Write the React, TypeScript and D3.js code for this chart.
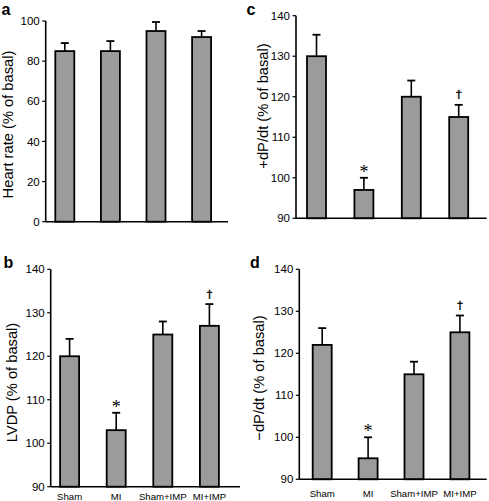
import React from "react";
import * as d3 from "d3";

const categories = ["Sham", "MI", "Sham+IMP", "MI+IMP"];

const heartRate = [85, 85, 95, 92];
const heartRateSem = [4, 5, 4.5, 3];
const lvdp = [120, 103, 125, 127];
const lvdpSem = [4, 4, 3, 5];
const dpdtPos = [130, 97, 120, 115];
const dpdtPosSem = [5.3, 3, 4, 3];
const dpdtNeg = [122, 95, 115, 125];
const dpdtNegSem = [4, 5, 3, 4];

const marksA = ["", "", "", ""];
const marksB = ["", "*", "", "†"];
const marksC = ["", "*", "", "†"];
const marksD = ["", "*", "", "†"];

const ticksA = [0, 20, 40, 60, 80, 100];
const ticksBCD = [90, 100, 110, 120, 130, 140];

const FONT = "'Liberation Sans', Arial, Helvetica, sans-serif";

type PanelProps = {
  letter: string;
  yLabel: string;
  values: number[];
  sems: number[];
  marks: string[];
  ticks: number[];
  domain: [number, number];
  axisX: number;
  yTop: number;
  yBot: number;
  xEnd: number;
  c0: number;
  step: number;
  labelX: number;
  labelY: number;
  letterX: number;
  letterY: number;
  catY?: number;
};

function Panel(p: PanelProps) {
  const y = d3.scaleLinear().domain(p.domain).range([p.yBot, p.yTop]);
  const barW = 19;
  const pad = 1 - barW / p.step;
  const x = d3
    .scaleBand<string>()
    .domain(categories)
    .range([p.c0 - p.step / 2, p.c0 + (categories.length - 0.5) * p.step])
    .paddingInner(pad)
    .paddingOuter(pad / 2);
  const capW = 8;
  return (
    <g>
      <text x={p.letterX} y={p.letterY} fontFamily={FONT} fontWeight="bold" fontSize={16} fill="#000">
        {p.letter}
      </text>
      <text
        transform={`translate(${p.labelX},${p.labelY}) rotate(-90)`}
        textAnchor="middle"
        fontFamily={FONT}
        fontSize={14.7}
        fill="#000"
      >
        {p.yLabel}
      </text>
      {p.ticks.map((t) => (
        <g key={t}>
          <line x1={p.axisX - 3.5} x2={p.axisX} y1={y(t)} y2={y(t)} stroke="#000" strokeWidth={1.2} />
          <text
            x={p.axisX - 6}
            y={y(t)}
            dy="0.36em"
            textAnchor="end"
            fontFamily={FONT}
            fontSize={11.5}
            fill="#000"
          >
            {t}
          </text>
        </g>
      ))}
      {categories.map((c, i) => {
        const bx = x(c) as number;
        const cx = bx + x.bandwidth() / 2;
        const top = y(p.values[i]);
        const errTop = y(p.values[i] + p.sems[i]);
        return (
          <g key={c}>
            <line x1={cx} x2={cx} y1={top} y2={errTop} stroke="#000" strokeWidth={1.6} />
            <line x1={cx - capW / 2} x2={cx + capW / 2} y1={errTop} y2={errTop} stroke="#000" strokeWidth={1.8} />
            <rect
              x={bx}
              y={top}
              width={x.bandwidth()}
              height={p.yBot - top}
              fill="#9b9b9b"
              stroke="#000"
              strokeWidth={1.8}
            />
            {p.marks[i] === "*" && (
              <text
                x={cx}
                y={errTop}
                textAnchor="middle"
                fontFamily="'Liberation Serif', 'Times New Roman', serif"
                fontSize={18}
                fill="#000"
              >
                *
              </text>
            )}
            {p.marks[i] === "†" && (
              <text
                x={cx}
                y={errTop - 6.5}
                textAnchor="middle"
                fontFamily="'DejaVu Sans', sans-serif"
                fontSize={11}
                fill="#000"
                stroke="#000"
                strokeWidth={0.35}
              >
                †
              </text>
            )}
            {p.catY !== undefined && (
              <text x={cx} y={p.catY} textAnchor="middle" fontFamily={FONT} fontSize={9.6} fill="#000">
                {c}
              </text>
            )}
          </g>
        );
      })}
      <line x1={p.axisX} x2={p.axisX} y1={p.yTop} y2={p.yBot} stroke="#000" strokeWidth={1.6} />
      <line x1={p.axisX} x2={p.xEnd} y1={p.yBot} y2={p.yBot} stroke="#000" strokeWidth={1.6} />
    </g>
  );
}

export default function App() {
  return (
    <svg
      width={489}
      height={501}
      style={{ position: "absolute", left: 0, top: 0, background: "#fff" }}
    >
      <rect width={489} height={501} fill="#fff" />
      <Panel
        letter="a"
        yLabel="Heart rate (% of basal)"
        values={heartRate}
        sems={heartRateSem}
        marks={marksA}
        ticks={ticksA}
        domain={[0, 100]}
        axisX={45.7}
        yTop={21}
        yBot={221.7}
        xEnd={228}
        c0={64.8}
        step={45.6}
        labelX={13.3}
        labelY={124.5}
        letterX={1.5}
        letterY={14.5}
      />
      <Panel
        letter="c"
        yLabel="+dP/dt (% of basal)"
        values={dpdtPos}
        sems={dpdtPosSem}
        marks={marksC}
        ticks={ticksBCD}
        domain={[90, 140]}
        axisX={296}
        yTop={15.7}
        yBot={218.3}
        xEnd={486.7}
        c0={316.5}
        step={47.4}
        labelX={268}
        labelY={106}
        letterX={246.5}
        letterY={14.5}
      />
      <Panel
        letter="b"
        yLabel="LVDP (% of basal)"
        values={lvdp}
        sems={lvdpSem}
        marks={marksB}
        ticks={ticksBCD}
        domain={[90, 140]}
        axisX={50.7}
        yTop={269.3}
        yBot={486.7}
        xEnd={240}
        c0={69.6}
        step={46.6}
        labelX={17}
        labelY={382.5}
        letterX={3.5}
        letterY={267.7}
        catY={499.5}
      />
      <Panel
        letter="d"
        yLabel="−dP/dt (% of basal)"
        values={dpdtNeg}
        sems={dpdtNegSem}
        marks={marksD}
        ticks={ticksBCD}
        domain={[90, 140]}
        axisX={299.3}
        yTop={269.3}
        yBot={479.3}
        xEnd={486.7}
        c0={322.2}
        step={45.9}
        labelX={264}
        labelY={378}
        letterX={250}
        letterY={268.3}
        catY={497}
      />
    </svg>
  );
}
